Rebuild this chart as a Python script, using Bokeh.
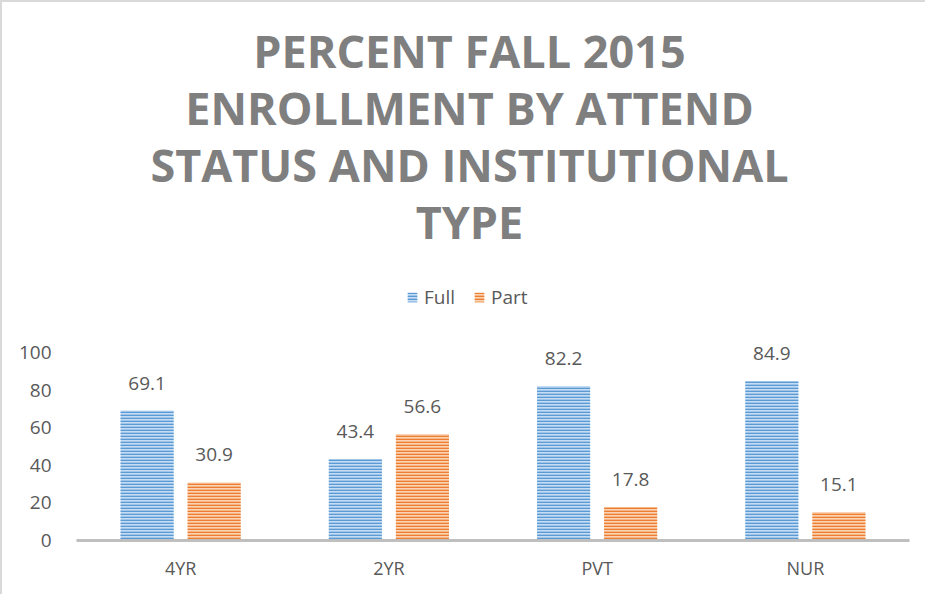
from bokeh.plotting import figure
from bokeh.models import (FactorRange, ColumnDataSource, FixedTicker, LabelSet,
                          Label, Legend, LegendItem)
from bokeh.core.properties import value
from bokeh.transform import dodge
from bokeh.embed import file_html
from bokeh.resources import INLINE

# ---- data ----
categories = ["4YR", "2YR", "PVT", "NUR"]
full_values = [69.1, 43.4, 82.2, 84.9]
part_values = [30.9, 56.6, 17.8, 15.1]
y_ticks = [0, 20, 40, 60, 80, 100]
title_lines = ["PERCENT FALL 2015", "ENROLLMENT BY ATTEND",
               "STATUS AND INSTITUTIONAL", "TYPE"]
series_names = ["Full", "Part"]

FONT = "Open Sans"
GRAY = "#595959"

src = ColumnDataSource(dict(
    cat=categories,
    full=full_values,
    part=part_values,
    full_lbl=[f"{v:.1f}" for v in full_values],
    part_lbl=[f"{v:.1f}" for v in part_values],
))

# frame spans from the top of the figure to the x axis; 100 sits 188px above 0
y_top = 538 / 1.88

p = figure(width=925, height=594, x_range=FactorRange(*categories, range_padding=0),
           y_range=(0, y_top), output_backend="svg", toolbar_location=None,
           min_border_left=74, min_border_right=18, min_border_top=0,
           min_border_bottom=56)
p.styles = {"border-left": "2px solid #d9d9d9", "border-top": "2px solid #d9d9d9"}
p.outline_line_color = None
p.grid.visible = False
p.background_fill_color = "white"
p.border_fill_color = "white"

off = 0.161
w = 0.255
r_full = p.vbar(x=dodge("cat", -off, range=p.x_range), top="full", width=w, source=src,
                fill_color="#c6dcf2", line_color=None,
                hatch_pattern="horizontal_line", hatch_color="#5b9bd5",
                hatch_weight=1.7, hatch_scale=3)
r_part = p.vbar(x=dodge("cat", off, range=p.x_range), top="part", width=w, source=src,
                fill_color="#fad2b4", line_color=None,
                hatch_pattern="horizontal_line", hatch_color="#ed7d31",
                hatch_weight=1.7, hatch_scale=3)

for col, lbl, o in (("full", "full_lbl", -off), ("part", "part_lbl", off)):
    p.add_layout(LabelSet(x=dodge("cat", o, range=p.x_range), y=col, text=lbl, source=src,
                          text_align="center", text_baseline="alphabetic", y_offset=21,
                          text_font=value(FONT), text_font_size="19px", text_color=GRAY))

# axes
p.yaxis.ticker = FixedTicker(ticks=y_ticks)
p.yaxis.axis_line_color = None
p.yaxis.major_tick_line_color = None
p.yaxis.minor_tick_line_color = None
p.yaxis.major_label_standoff = 19
p.yaxis.major_label_text_font = FONT
p.yaxis.major_label_text_font_size = "19px"
p.yaxis.major_label_text_color = GRAY

p.xaxis.axis_line_color = "#bfbfbf"
p.xaxis.axis_line_width = 3
p.xaxis.major_tick_line_color = None
p.xaxis.minor_tick_line_color = None
p.xaxis.major_label_standoff = 9
p.xaxis.major_label_text_font = FONT
p.xaxis.major_label_text_font_size = "18px"
p.xaxis.major_label_text_color = GRAY

# title lines
for i, t in enumerate(title_lines):
    p.add_layout(Label(x=393, y=490 - 57 * i, x_units="screen", y_units="screen",
                       text=t, text_align="center", text_baseline="alphabetic",
                       text_font=FONT, text_font_style="bold", text_font_size="45px",
                       text_color="#7f7f7f"))

legend = Legend(items=[LegendItem(label=series_names[0], renderers=[r_full]),
                       LegendItem(label=series_names[1], renderers=[r_part])],
                orientation="horizontal", location=(330, 230),
                glyph_width=12, glyph_height=12, label_standoff=6, spacing=18,
                padding=0, margin=0, label_height=20, border_line_color=None,
                background_fill_alpha=0, label_text_font=FONT,
                label_text_font_size="19px", label_text_color=GRAY)
p.add_layout(legend)

open("out.html", "w").write(file_html(p, INLINE))
